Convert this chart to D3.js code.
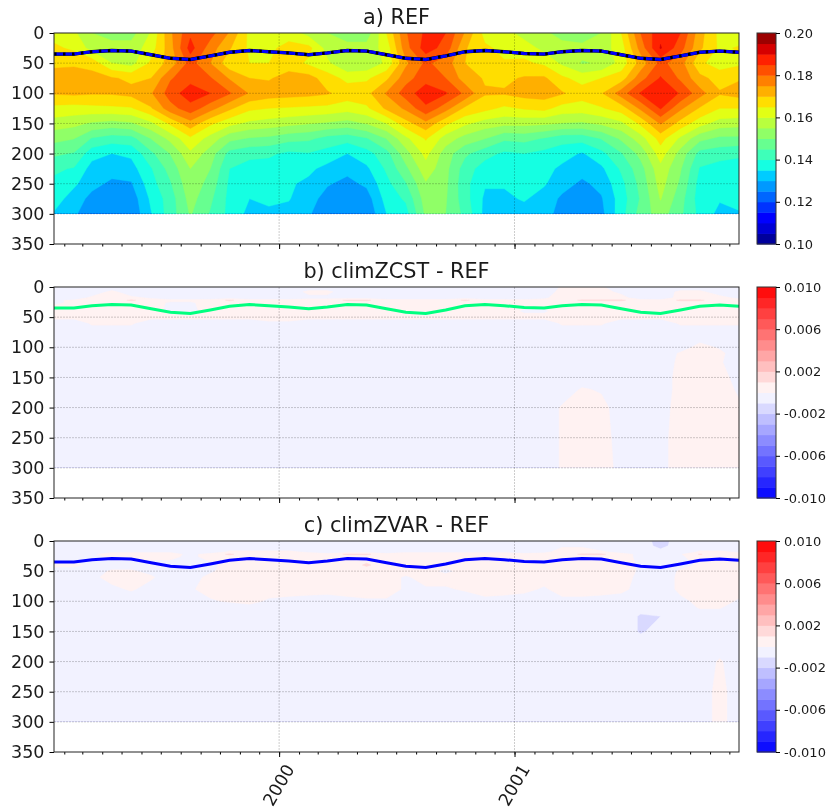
<!DOCTYPE html>
<html>
<head>
<meta charset="utf-8">
<script src="https://cdn.jsdelivr.net/npm/d3@7"></script>
<style>
  body { margin: 0; background: #fff; }
  svg { filter: blur(0.4px); }
  text { font-family: "DejaVu Sans"; fill: #1a1a1a; }
</style>
</head>
<body>
<div id="chart"></div>
<script>
// monthly dates, mid month
const months = d3.range(36).map(i => new Date(Date.UTC(1999, i, 16)));
const yearTicks = [new Date(Date.UTC(2000, 0, 1)), new Date(Date.UTC(2001, 0, 1))];
const depthTicks = [0, 50, 100, 150, 200, 250, 300, 350];

const panelTitles = ["a) REF", "b) climZCST - REF", "c) climZVAR - REF"];
const refTicks = [0.10, 0.12, 0.14, 0.16, 0.18, 0.20];
const diffTicks = [-0.010, -0.006, -0.002, 0.002, 0.006, 0.010];

// mixed layer depth, one value per month
const mld = [
  35, 35, 31, 29, 30, 36, 42, 44, 38, 32, 29, 31,
  33, 36, 33, 29, 30, 36, 42, 44, 38, 31, 29, 31,
  34, 35, 31, 29, 30, 36, 42, 44, 38, 32, 30, 32
];

// panel a, one row per month, depths below
const refDepths = [0, 25, 50, 75, 100, 125, 150, 175, 200, 225, 250, 275, 300];
const refValues = [
  [.163, .166, .169, .172, .1705, .1635, .1577, .1516, .146, .1408, .139, .1375, .1345],
  [.161, .164, .169, .173, .171, .163, .1565, .1502, .1446, .1396, .136, .1325, .131],
  [.155, .158, .168, .172, .1705, .1635, .1542, .1446, .137, .133, .1315, .1285, .126],
  [.153, .157, .160, .1705, .1705, .164, .153, .1425, .135, .132, .129, .127, .126],
  [.153, .157, .158, .169, .1715, .1645, .1542, .1432, .136, .133, .1295, .127, .126],
  [.1605, .1625, .166, .170, .1745, .1695, .1588, .1502, .1439, .1396, .138, .136, .1347],
  [.174, .173, .172, .1795, .1825, .178, .166, .1565, .1502, .147, .1445, .1425, .1425],
  [.184, .187, .182, .183, .188, .183, .173, .164, .159, .155, .1535, .152, .1505],
  [.182, .1775, .175, .1805, .185, .177, .166, .158, .1525, .15, .148, .146, .1445],
  [.1745, .1705, .1665, .1745, .1805, .171, .1615, .1516, .1432, .14, .139, .1385, .1385],
  [.1635, .164, .165, .170, .1745, .166, .1588, .1495, .1414, .138, .136, .135, .1335],
  [.162, .164, .165, .1695, .1725, .165, .1577, .1488, .1408, .138, .136, .1355, .1345],
  [.163, .1665, .1675, .172, .172, .1645, .1565, .1467, .139, .1375, .1356, .1353, .1335],
  [.158, .1665, .164, .172, .1715, .164, .1553, .146, .1396, .136, .134, .132, .1305],
  [.155, .158, .161, .1675, .1705, .1635, .1542, .1432, .138, .1335, .1305, .128, .127],
  [.152, .157, .155, .1635, .168, .162, .153, .142, .135, .1315, .1285, .1265, .1255],
  [.152, .157, .156, .164, .1685, .164, .1553, .1446, .138, .134, .131, .1275, .126],
  [.165, .162, .161, .169, .1755, .171, .16, .1502, .1432, .1408, .1385, .137, .135],
  [.1795, .178, .174, .178, .1825, .176, .168, .1588, .153, .1488, .1446, .1408, .138],
  [.186, .1875, .181, .183, .188, .184, .1735, .1655, .1615, .158, .1545, .1525, .151],
  [.185, .183, .1775, .18, .1855, .177, .166, .1577, .1525, .1515, .151, .1505, .15],
  [.1745, .1705, .17, .1725, .1788, .169, .161, .153, .146, .1425, .1415, .142, .1435],
  [.163, .166, .1665, .1695, .1705, .1665, .1577, .1502, .142, .1375, .1355, .134, .1335],
  [.162, .1635, .1655, .169, .1705, .164, .1565, .146, .139, .137, .1355, .134, .1325],
  [.158, .1625, .166, .1705, .172, .1655, .1565, .1467, .14, .138, .136, .1355, .133],
  [.156, .1585, .164, .1708, .1725, .1665, .1559, .1446, .1385, .1365, .1355, .133, .1315],
  [.153, .157, .159, .166, .1705, .163, .1548, .142, .137, .134, .132, .129, .1285],
  [.151, .157, .1545, .163, .1675, .1625, .1542, .142, .1345, .132, .129, .1265, .1255],
  [.155, .1575, .1555, .165, .1695, .1645, .1559, .1453, .1385, .134, .1315, .1295, .1285],
  [.165, .1625, .162, .1675, .1775, .1675, .1588, .1509, .1446, .1408, .1385, .1375, .138],
  [.18, .177, .172, .178, .1855, .176, .166, .1577, .1516, .148, .1465, .1455, .147],
  [.1885, .1905, .1815, .1855, .189, .1855, .1755, .167, .1625, .1585, .157, .1553, .1525],
  [.185, .182, .177, .179, .1845, .176, .168, .159, .153, .1505, .149, .147, .146],
  [.172, .171, .166, .1715, .177, .1695, .162, .1516, .1432, .1396, .138, .1375, .1385],
  [.1635, .164, .1625, .168, .1705, .165, .1577, .1488, .142, .138, .136, .1355, .1335],
  [.162, .1655, .164, .1695, .172, .165, .157, .1488, .1408, .138, .1375, .136, .1347]
];

// panels b and c, one row per depth, in 1e-4 units
const diffDepths = [0, 8, 18, 22, 26, 40, 50, 60, 80, 100, 110, 125, 150, 170, 200, 250, 300];
const zcstValues = [
  [-5,-5,-5,-5,-5,-5,-5,-5,-5,-5,-5,-5, -5,-5,-5,-5,-5,-5,-5,-5,-5,-5,-5,-5, -5,-5,1,2,1,-5,-5,-5,-5,-5,-5,-5],
  [-5,-5,-5,2,-5,-5,-5,-5,-5,-5,-5,-5, -5,2,2,-5,-5,-5,-5,-5,-5,-5,-5,-5, -5,-5,3,3,3,-2,-5,-5,2,2,-5,-5],
  [-5,-5,2,3,2,-1,-5,-5,-5,-5,-5,-5, -5,-2,-2,-5,-5,-5,-5,-5,-5,-5,-5,-5, -5,-1,3,3,3,3,-5,-5,3,3,3,-2],
  [-1,1,3,3,12,3,2,2,3,12,3,3, 3,3,3,12,12,3,3,3,3,12,3,3, 2,2,3,12,12,12,3,2,12,12,3,3],
  [-1,1,3,3,3,3,-1,-1,3,3,3,3, 3,3,3,3,3,3,3,3,3,3,3,3, 3,3,3,3,3,3,3,3,3,3,3,3],
  [3,3,3,3,3,3,-2,-2,3,3,3,3, 3,3,3,3,3,3,3,3,3,3,3,3, -1,-1,3,3,3,3,3,3,3,3,3,3],
  [2,2,2,2,2,2,2,2,2,2,2,2, 2,2,2,2,2,2,2,2,2,2,2,2, 2,2,2,2,2,2,2,2,2,2,2,2],
  [-4,-4,1,1,1,-4,-4,-4,-4,-4,-4,-1, -1,-4,-4,-4,-4,-4,-4,-4,-4,-4,-4,-4, -4,-4,1,1,1,-4,-4,-4,1,1,1,1],
  [-5,-5,-5,-5,-5,-5,-5,-5,-5,-5,-5,-5, -5,-5,-5,-5,-5,-5,-5,-5,-5,-5,-5,-5, -5,-5,-5,-5,-5,-5,-5,-5,-5,-5,-5,-5],
  [-5,-5,-5,-5,-5,-5,-5,-5,-5,-5,-5,-5, -5,-5,-5,-5,-5,-5,-5,-5,-5,-5,-5,-5, -5,-5,-5,-5,-5,-5,-5,-5,-4,3,-1,-5],
  [-5,-5,-5,-5,-5,-5,-5,-5,-5,-5,-5,-5, -5,-5,-5,-5,-5,-5,-5,-5,-5,-5,-5,-5, -5,-5,-5,-5,-5,-5,-5,-5,1,3,2,-5],
  [-5,-5,-5,-5,-5,-5,-5,-5,-5,-5,-5,-5, -5,-5,-5,-5,-5,-5,-5,-5,-5,-5,-5,-5, -5,-5,-5,-5,-5,-5,-5,-5,2,3,1,-5],
  [-5,-5,-5,-5,-5,-5,-5,-5,-5,-5,-5,-5, -5,-5,-5,-5,-5,-5,-5,-5,-5,-5,-5,-5, -5,-5,-5,-5,-5,-5,-5,-3,2,3,3,-3],
  [-5,-5,-5,-5,-5,-5,-5,-5,-5,-5,-5,-5, -5,-5,-5,-5,-5,-5,-5,-5,-5,-5,-5,-5, -5,-5,-5,1,-1,-5,-5,-3,2,3,3,-1],
  [-5,-5,-5,-5,-5,-5,-5,-5,-5,-5,-5,-5, -5,-5,-5,-5,-5,-5,-5,-5,-5,-5,-5,-5, -5,-5,1,3,3,-5,-5,-3,3,3,3,1],
  [-5,-5,-5,-5,-5,-5,-5,-5,-5,-5,-5,-5, -5,-5,-5,-5,-5,-5,-5,-5,-5,-5,-5,-5, -5,-5,1,3,3,-3,-5,-2,3,3,3,3],
  [-5,-5,-5,-5,-5,-5,-5,-5,-5,-5,-5,-5, -5,-5,-5,-5,-5,-5,-5,-5,-5,-5,-5,-5, -5,-5,1,3,3,-2,-5,-2,3,3,3,3]
];
const zvarValues = [
  [-5,-5,-5,-5,-5,-5,-5,-5,-5,-5,-5,-5, -5,-5,-5,-5,-5,-5,-5,-5,-5,-5,-5,-5, -5,-5,-5,-5,-5,-5,-5,-14,-5,-5,-5,-5],
  [-5,-5,-5,-5,-5,-5,-5,-5,-5,-5,-5,-5, -5,-5,-5,-5,-5,-5,-5,-5,-5,-5,-5,-5, -5,-5,-1,-1,-5,-5,-5,-13,-5,-5,-5,-5],
  [-5,-5,-5,-1,-1,-1,-1,-5,-5,1,1,1, 1,-1,-5,-5,-5,-5,-1,-1,-1,-1,-1,-1, -5,-2,3,3,1,-3,-5,-7,-5,1,1,-1],
  [-3,-3,-1,3,3,3,3,-2,3,12,3,3, 3,3,3,12,12,3,3,3,3,3,3,3, 3,3,3,12,12,3,-2,-5,-1,11,3,3],
  [-3,-3,-3,2,2,2,2,-2,3,3,3,3, 3,3,3,3,3,3,3,3,3,3,3,3, 3,3,3,3,3,3,-2,-5,-1,3,3,3],
  [1,1,-1,-3,-3,-3,-3,-3,-2,3,3,3, 3,3,3,3,12,3,3,3,3,3,3,3, 3,3,3,3,3,3,-1,-5,-2,1,1,1],
  [-2,-2,-3,1,1,-2,-4,-4,-1,3,3,3, 3,3,3,3,3,3,3,3,-2,3,3,3, 3,3,3,3,3,3,-1,-4,1,3,3,3],
  [-5,-5,-2,3,3,1,-4,-3,2,3,3,3, 3,3,3,3,3,3,-1,3,3,3,3,3, 3,3,3,3,3,3,-2,-5,2,3,3,3],
  [-5,-5,-5,-2,1,-3,-5,-1,3,3,3,3, 3,3,3,3,3,3,-1,-1,-1,1,3,3, 2,-1,3,3,3,2,-3,-5,2,3,3,3],
  [-5,-5,-5,-5,-5,-5,-5,-5,-1,1,2,-1, -2,-3,-4,-2,-1,-1,-4,-5,-5,-5,-2,-3, -4,-5,-2,-2,-3,-4,-5,-5,-2,2,3,-1],
  [-5,-5,-5,-5,-5,-5,-5,-5,-5,-5,-2,-5, -5,-5,-5,-5,-5,-5,-5,-5,-5,-5,-5,-5, -5,-5,-5,-5,-5,-5,-7,-5,-5,1,1,-5],
  [-5,-5,-5,-5,-5,-5,-5,-5,-5,-5,-5,-5, -5,-5,-5,-5,-5,-5,-5,-5,-5,-5,-5,-5, -5,-5,-5,-5,-5,-5,-11,-10,-5,-5,-5,-5],
  [-5,-5,-5,-5,-5,-5,-5,-5,-5,-5,-5,-5, -5,-5,-5,-5,-5,-5,-5,-5,-5,-5,-5,-5, -5,-5,-5,-5,-5,-5,-11,-7,-5,-5,-5,-5],
  [-5,-5,-5,-5,-5,-5,-5,-5,-5,-5,-5,-5, -5,-5,-5,-5,-5,-5,-5,-5,-5,-5,-5,-5, -5,-5,-5,-5,-5,-5,-6,-5,-5,-5,-5,-5],
  [-5,-5,-5,-5,-5,-5,-5,-5,-5,-5,-5,-5, -5,-5,-5,-5,-5,-5,-5,-5,-5,-5,-5,-5, -5,-5,-5,-5,-5,-5,-5,-5,-5,-5,1,-5],
  [-5,-5,-5,-5,-5,-5,-5,-5,-5,-5,-5,-5, -5,-5,-5,-5,-5,-5,-5,-5,-5,-5,-5,-5, -5,-5,-5,-5,-5,-5,-5,-5,-5,-5,3,-5],
  [-5,-5,-5,-5,-5,-5,-5,-5,-5,-5,-5,-5, -5,-5,-5,-5,-5,-5,-5,-5,-5,-5,-5,-5, -5,-5,-5,-5,-5,-5,-5,-5,-5,-5,3,-5]
];

const width = 830, height = 810;
const margin = {left: 54, right: 739};
const panelH = 211;
const panelTops = [33, 287, 541];
const cbarX = 757, cbarW = 19;

const svg = d3.select("#chart").append("svg")
  .attr("width", width)
  .attr("height", height);

// shared x scale
const x = d3.scaleTime()
  .domain([months[0], months[35]])
  .range([margin.left, margin.right]);

// matplotlib jet, channel by channel
const jetR = d3.scaleLinear().domain([0, .35, .66, .89, 1]).range([0, 0, 1, 1, .5]);
const jetG = d3.scaleLinear().domain([0, .125, .375, .64, .91, 1]).range([0, 0, 1, 1, 0, 0]);
const jetB = d3.scaleLinear().domain([0, .11, .34, .65, 1]).range([.5, 1, 1, 0, 0]);
const jet = t => d3.rgb(jetR(t) * 255, jetG(t) * 255, jetB(t) * 255).formatHex();
const bwr = d3.scaleLinear().domain([0, .5, 1]).range(["#0000ff", "#ffffff", "#ff0000"]);

function drawPanel(i, rows, depths, levels, cmap, cbarTicks, tickFmt, lineColor) {
  const top = panelTops[i];
  const y = d3.scaleLinear().domain([0, 350]).range([top, top + panelH]);
  const nx = rows[0].length, ny = rows.length;

  const g = svg.append("g");
  const clipId = "clip" + i;
  svg.append("clipPath").attr("id", clipId).append("rect")
    .attr("x", margin.left).attr("y", y(0))
    .attr("width", margin.right - margin.left).attr("height", y(300) - y(0));

  // contour coordinates are cell based, so go back to dates and depths
  const cx = c => {
    const p = Math.max(0, Math.min(nx - 1.0001, c - 0.5)), k = Math.floor(p);
    return x(months[k]) + (p - k) * (x(months[k + 1]) - x(months[k]));
  };
  const cy = c => {
    const p = Math.max(0, Math.min(ny - 1.0001, c - 0.5)), k = Math.floor(p);
    return y(depths[k] + (p - k) * (depths[k + 1] - depths[k]));
  };
  const path = d3.geoPath(d3.geoTransform({
    point: function(a, b) { this.stream.point(cx(a), cy(b)); }
  }));

  const contours = d3.contours().size([nx, ny]).smooth(true)
    .thresholds(levels.slice(0, -1))(rows.flat());

  g.append("g").attr("clip-path", `url(#${clipId})`)
    .selectAll("path")
    .data(contours)
    .enter()
    .append("path")
      .attr("d", path)
      .attr("fill", (d, k) => cmap((k + 0.5) / (levels.length - 1)))
      .attr("stroke", (d, k) => cmap((k + 0.5) / (levels.length - 1)))
      .attr("stroke-width", 0.4);

  // grid
  g.selectAll("hgrid").data(depthTicks.slice(1, -1)).enter().append("line")
    .attr("x1", margin.left).attr("x2", margin.right)
    .attr("y1", d => y(d)).attr("y2", d => y(d))
    .attr("stroke", "#000").attr("stroke-opacity", 0.2).attr("stroke-width", 1)
    .attr("stroke-dasharray", "2 1");
  g.selectAll("vgrid").data(yearTicks).enter().append("line")
    .attr("x1", d => x(d)).attr("x2", d => x(d))
    .attr("y1", y(0)).attr("y2", y(350))
    .attr("stroke", "#000").attr("stroke-opacity", 0.2).attr("stroke-width", 1)
    .attr("stroke-dasharray", "2 1");

  // mixed layer line
  const line = d3.line().x((d, k) => x(months[k])).y(d => y(d));
  if (i == 0) {
    g.append("path").datum(mld).attr("d", line).attr("fill", "none")
      .attr("stroke", "#000").attr("stroke-width", 3.4);
  }
  g.append("path").datum(mld).attr("d", line).attr("fill", "none")
    .attr("stroke", lineColor).attr("stroke-width", 3);
  if (i == 0) {
    g.append("path").datum(mld).attr("d", line).attr("fill", "none")
      .attr("stroke", "#000").attr("stroke-width", 3).attr("stroke-dasharray", "2.5 6.5");
  }

  // axes
  const yAxis = d3.axisLeft(y).tickValues(depthTicks).tickSize(4.5).tickPadding(5);
  const xMinor = d3.axisBottom(x).ticks(d3.utcMonth.every(1)).tickSize(2.5).tickFormat("");
  const xMajor = d3.axisBottom(x).tickValues(yearTicks).tickSize(5).tickFormat(i == 2 ? d3.utcFormat("%Y") : "");

  g.append("g")
    .attr("transform", `translate(0, ${y(350)})`)
    .call(xMinor)
    .call(s => s.select(".domain").remove());
  const xg = g.append("g")
    .attr("transform", `translate(0, ${y(350)})`)
    .call(xMajor)
    .call(s => s.select(".domain").remove());
  xg.selectAll("text")
    .attr("y", 0)
    .attr("dy", "0.35em")
    .attr("transform", "translate(-1,33)rotate(-60)")
    .style("text-anchor", "middle")
    .style("font-size", "17.5px");
  const yg = g.append("g")
    .attr("transform", `translate(${margin.left}, 0)`)
    .call(yAxis)
    .call(s => s.select(".domain").remove());
  yg.selectAll("text").style("font-size", "17.5px");

  g.append("rect")
    .attr("x", margin.left).attr("y", y(0))
    .attr("width", margin.right - margin.left).attr("height", panelH)
    .attr("fill", "none").attr("stroke", "#222");

  // title
  g.append("text")
    .attr("x", (margin.left + margin.right) / 2)
    .attr("y", top - 9)
    .attr("text-anchor", "middle")
    .style("font-size", "20.8px")
    .text(panelTitles[i]);

  // colour bar
  const cScale = d3.scaleLinear().domain([levels[0], levels[levels.length - 1]]).range([top + panelH, top]);
  g.selectAll("cbar").data(levels.slice(0, -1)).enter().append("rect")
    .attr("x", cbarX).attr("width", cbarW)
    .attr("y", (d, k) => cScale(levels[k + 1]))
    .attr("height", (d, k) => cScale(levels[k]) - cScale(levels[k + 1]) + 0.5)
    .attr("fill", (d, k) => cmap((k + 0.5) / (levels.length - 1)));
  g.append("rect")
    .attr("x", cbarX).attr("y", top).attr("width", cbarW).attr("height", panelH)
    .attr("fill", "none").attr("stroke", "#333");
  const cAxis = d3.axisRight(cScale).tickValues(cbarTicks).tickSize(4).tickPadding(4).tickFormat(tickFmt);
  const cg = g.append("g")
    .attr("transform", `translate(${cbarX + cbarW}, 0)`)
    .call(cAxis)
    .call(s => s.select(".domain").remove());
  cg.selectAll("text").style("font-size", "13px");
}

const refLevels = d3.range(21).map(k => 0.10 + k * 0.005);
const diffLevels = d3.range(21).map(k => -0.01 + k * 0.001);
const toReal = rows => rows.map(r => r.map(v => v * 1e-4));
// plain hyphen on the colour bar labels
const diffFmt = v => d3.format(".3f")(v).replace("\u2212", "-");

// panel a rows come by month, contours want them by depth
const refByDepth = refDepths.map((d, r) => refValues.map(col => col[r]));

drawPanel(0, refByDepth, refDepths, refLevels, jet, refTicks, d3.format(".2f"), "#0000ff");
drawPanel(1, toReal(zcstValues), diffDepths, diffLevels, bwr, diffTicks, diffFmt, "#00ff7f");
drawPanel(2, toReal(zvarValues), diffDepths, diffLevels, bwr, diffTicks, diffFmt, "#0000ff");
</script>
</body>
</html>
